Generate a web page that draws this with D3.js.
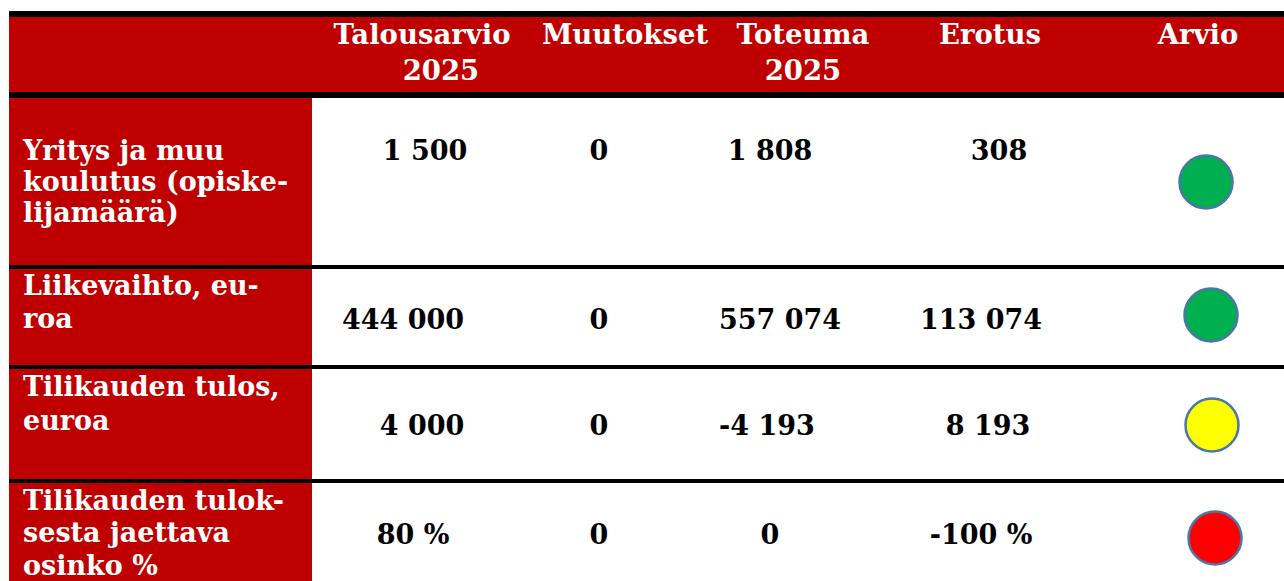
<!DOCTYPE html>
<html>
<head>
<meta charset="utf-8">
<script src="https://cdn.jsdelivr.net/npm/d3@7"></script>
<style>
  html, body { margin: 0; padding: 0; background: #fff; }
  text { font-family: "DejaVu Serif", serif; font-weight: bold; }
</style>
</head>
<body>
<div id="chart"></div>
<script>
// table content
const columns = ['Talousarvio 2025', 'Muutokset', 'Toteuma 2025', 'Erotus', 'Arvio']
const headerLines = [['Talousarvio', '2025'], ['Muutokset'], ['Toteuma', '2025'], ['Erotus'], ['Arvio']]
const rows = ['Yritys', 'Liikevaihto', 'Tulos', 'Osinko']
const rowLabels = [
  ['Yritys ja muu', 'koulutus (opiske-', 'lijamäärä)'],
  ['Liikevaihto, eu-', 'roa'],
  ['Tilikauden tulos,', 'euroa'],
  ['Tilikauden tulok-', 'sesta jaettava', 'osinko %']
]
const talousarvio = ['1 500', '444 000', '4 000', '80 %']
const muutokset = ['0', '0', '0', '0']
const toteuma = ['1 808', '557 074', '-4 193', '0']
const erotus = ['308', '113 074', '8 193', '-100 %']
const arvio = ['#00b050', '#00b050', '#ffff00', '#ff0000']

// layout, the source table is hand nudged so cells don't line up exactly
const rowEdges = [98, 269, 369, 483, 581]
const rowBaselines = [160, 329, 435, 544]
const labelBaselines = [[160, 191, 222], [295, 328], [396, 430], [510, 542, 575]]
const cellNudge = [
  [5, 0, -5, 11],
  [-17, 0, 5, -7],
  [2, 0, -8, 0],
  [-7, 0, -5, -7]
]
const circleNudge = [[-4, 84], [1, 46], [2, 56], [5, 55]]
const headerNudge = [[2, 21], [26], [28, 28], [2], [-12]]

let width = 1284
let height = 581
let red = '#bf0000'

let xPositionScale = d3.scaleOrdinal().domain(columns).range([420, 599, 775, 988, 1210])
let rowTop = d3.scaleOrdinal().domain(rows).range(rowEdges.slice(0, 4))
let rowBottom = d3.scaleOrdinal().domain(rows).range(rowEdges.slice(1))

let svg = d3.select('#chart')
  .append('svg')
  .attr('width', width)
  .attr('height', height)
  .style('display', 'block')

// red header band and first column
svg.append('rect')
  .attr('x', 9).attr('y', 17)
  .attr('width', width - 9).attr('height', 75)
  .attr('fill', red)

svg.selectAll('.row-cell')
  .data(rows)
  .enter()
  .append('rect')
  .attr('class', 'row-cell')
  .attr('x', 9)
  .attr('y', d => rowTop(d))
  .attr('width', 303)
  .attr('height', d => rowBottom(d) - rowTop(d))
  .attr('fill', red)

// black rules
let rules = [[11, 6], [92, 6], [265, 4], [365, 4], [479, 4]]
svg.selectAll('.rule')
  .data(rules)
  .enter()
  .append('rect')
  .attr('class', 'rule')
  .attr('x', 9)
  .attr('y', d => d[0])
  .attr('width', width - 9)
  .attr('height', d => d[1])
  .attr('fill', '#000')

// header text
columns.forEach((col, i) => {
  svg.selectAll('.head' + i)
    .data(headerLines[i])
    .enter()
    .append('text')
    .attr('class', 'head' + i)
    .attr('x', (d, j) => xPositionScale(col) + headerNudge[i][j])
    .attr('y', (d, j) => 44 + j * 36)
    .attr('text-anchor', 'middle')
    .attr('font-size', 27.5)
    .attr('fill', '#fff')
    .text(d => d)
})

// row labels
rows.forEach((row, i) => {
  svg.selectAll('.label' + i)
    .data(rowLabels[i])
    .enter()
    .append('text')
    .attr('class', 'label' + i)
    .attr('x', 23)
    .attr('y', (d, j) => labelBaselines[i][j])
    .attr('font-size', 27)
    .attr('fill', '#fff')
    .text(d => d)
})

// value cells
let valueColumns = [talousarvio, muutokset, toteuma, erotus]
valueColumns.forEach((values, c) => {
  svg.selectAll('.value' + c)
    .data(values)
    .enter()
    .append('text')
    .attr('class', 'value' + c)
    .attr('x', (d, r) => xPositionScale(columns[c]) + cellNudge[r][c])
    .attr('y', (d, r) => rowBaselines[r])
    .attr('text-anchor', 'middle')
    .attr('font-size', 27)
    .attr('fill', '#000')
    .text(d => d)
})

// traffic lights
svg.selectAll('.light')
  .data(arvio)
  .enter()
  .append('circle')
  .attr('class', 'light')
  .attr('cx', (d, r) => xPositionScale('Arvio') + circleNudge[r][0])
  .attr('cy', (d, r) => rowTop(rows[r]) + circleNudge[r][1])
  .attr('r', 26.5)
  .attr('fill', d => d)
  .attr('stroke', '#4a76a8')
  .attr('stroke-width', 2.5)
</script>
</body>
</html>
